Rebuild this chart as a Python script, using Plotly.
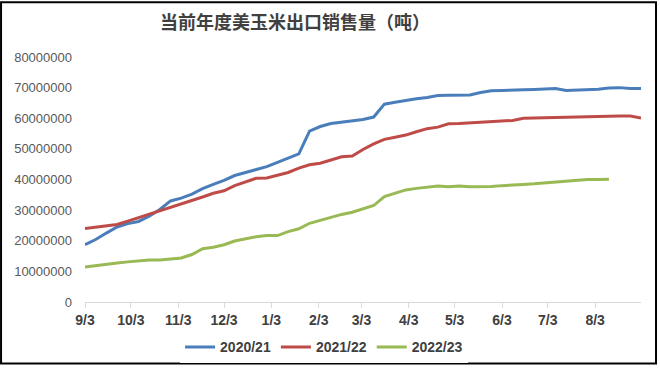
import plotly.graph_objects as go
import pandas as pd

# weekly report dates (x categories), shared by all three marketing years
week_dates = pd.date_range("2020-09-03", periods=53, freq="7D")

tick_dates = ["2020-09-03", "2020-10-03", "2020-11-03", "2020-12-03", "2021-01-03", "2021-02-03",
              "2021-03-03", "2021-04-03", "2021-05-03", "2021-06-03", "2021-07-03", "2021-08-03"]
tick_labels = ["9/3", "10/3", "11/3", "12/3", "1/3", "2/3", "3/3", "4/3", "5/3", "6/3", "7/3", "8/3"]

y_ticks = [0, 10000000, 20000000, 30000000, 40000000, 50000000, 60000000, 70000000, 80000000]

series_names = ["2020/21", "2021/22", "2022/23"]

sales_2020_21 = [18700000, 20400000, 22500000, 24500000, 25600000, 26300000, 28000000, 30200000,
                 33000000, 33900000, 35200000, 37000000, 38400000, 39700000, 41300000, 42200000,
                 43200000, 44200000, 45600000, 46900000, 48400000, 55800000, 57300000, 58300000,
                 58800000, 59200000, 59600000, 60400000, 64600000, 65200000, 65900000, 66400000,
                 66800000, 67400000, 67500000, 67500000, 67600000, 68400000, 69000000, 69100000,
                 69100000, 69300000, 69400000, 69500000, 69700000, 69100000, 69200000, 69200000,
                 69500000, 69900000, 70000000, 69700000, 69700000]

sales_2021_22 = [24000000, 24400000, 24800000, 25300000, 26400000, 27500000, 28800000, 29900000,
                 30900000, 31900000, 33000000, 34300000, 35500000, 36300000, 38000000, 39100000,
                 40400000, 40500000, 41300000, 42300000, 43700000, 44800000, 45300000, 46300000,
                 47400000, 47700000, 49800000, 51600000, 53100000, 53800000, 54500000, 55600000,
                 56600000, 57100000, 58200000, 58300000, 58500000, 58800000, 59000000, 59100000,
                 59300000, 60000000, 60100000, 60200000, 60300000, 60400000, 60400000, 60400000,
                 60600000, 60700000, 60700000, 60700000, 60100000]

sales_2022_23 = [11400000, 11900000, 12300000, 12700000, 13100000, 13400000, 13700000, 13700000,
                 14000000, 14400000, 15500000, 17400000, 17900000, 18700000, 19900000, 20700000,
                 21300000, 21700000, 21700000, 23000000, 23900000, 25700000, 26700000, 27800000,
                 28600000, 29300000, 30300000, 31500000, 34400000, 35400000, 36600000, 37100000,
                 37500000, 37900000, 37600000, 37900000, 37600000, 37600000, 37700000, 38000000,
                 38300000, 38400000, 38600000, 38900000, 39200000, 39500000, 39800000, 40000000,
                 40000000, 40100000]

colors = ["#4a7ebb", "#be4b48", "#98b954"]
all_series = [sales_2020_21, sales_2021_22, sales_2022_23]

fig = go.Figure()
for name, vals, col in zip(series_names, all_series, colors):
    fig.add_trace(go.Scatter(
        x=week_dates[:len(vals)], y=vals, name=name, mode="lines",
        line=dict(color=col, width=3),
    ))

fig.update_layout(
    width=660, height=375,
    margin=dict(l=85, r=19, t=57, b=67),
    paper_bgcolor="white", plot_bgcolor="white",
    title=dict(text="当前年度美玉米出口销售量（吨）", xref="container", yref="container",
               x=0.447, xanchor="center", y=0.94, yanchor="middle",
               font=dict(family="Noto Sans CJK SC", size=18, color="#404040", weight="bold")),
    showlegend=True,
    legend=dict(orientation="h", xref="paper", yref="paper", x=0.43, xanchor="center",
                y=-0.185, yanchor="middle", itemwidth=30,
                font=dict(family="Liberation Sans", size=14, color="#404040", weight="bold")),
    xaxis=dict(type="date", range=["2020-09-03", "2021-09-02"],
               tickvals=tick_dates, ticktext=tick_labels, automargin=False,
               showgrid=False, zeroline=False, showline=True, linecolor="#d9d9d9", linewidth=1,
               ticks="outside", ticklen=5, tickcolor="#d9d9d9",
               tickfont=dict(family="Liberation Sans", size=14, color="#404040", weight="bold")),
    yaxis=dict(range=[0, 80000000], tickvals=y_ticks, tickformat="d", automargin=False,
               showgrid=False, zeroline=False, showline=False, ticks="",
               ticklabelstandoff=12,
               tickfont=dict(family="Liberation Sans", size=13, color="#595959")),
    shapes=[dict(type="rect", xref="paper", yref="paper",
                 x0=-0.151, x1=1.027, y0=-0.251, y1=1.223,
                 line=dict(color="black", width=2), fillcolor="rgba(0,0,0,0)")],
)

fig.write_html("out.html", config={"displayModeBar": False},
               post_script="document.body.style.margin='0';")
